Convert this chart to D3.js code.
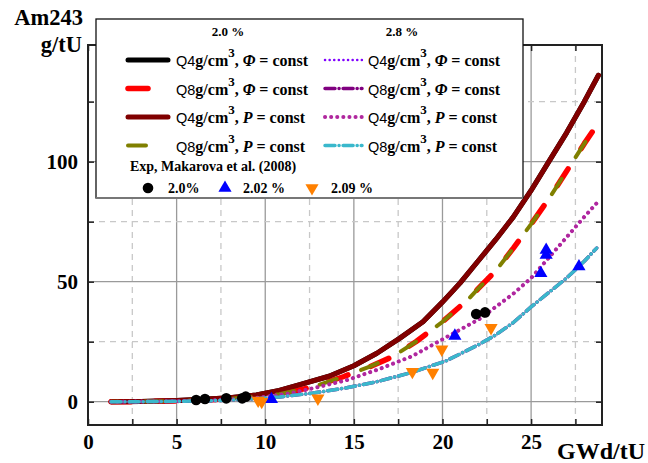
<!DOCTYPE html>
<html>
<head>
<meta charset="utf-8">
<script src="https://cdn.jsdelivr.net/npm/d3@7"></script>
<style>
  body { margin: 0; background: #fff; }
  svg { display: block; }
  text { font-family: "Liberation Serif", "Times New Roman", serif; font-weight: bold; fill: #000; }
</style>
</head>
<body>
<svg id="chart" width="648" height="463"></svg>
<script>
// ticks
var xMajor = [0, 5, 10, 15, 20, 25];
var xMinor = [2.5, 7.5, 12.5, 17.5, 22.5, 27.5];
var yMajor = [0, 50, 100];
var yMinor = [25, 75, 125];

// model curves, 2.0 % enrichment
var bu20q4 = [1.3, 3, 5, 6.5, 8, 9.5, 10.8, 12, 13.6, 15, 16.3, 17.6, 18.9, 20, 21, 22, 23, 24, 25, 26, 27, 28, 28.8];
var am20q4 = [0, 0.1, 0.5, 1.0, 1.7, 2.8, 4.7, 7.2, 10.6, 15, 20.2, 26.5, 33.3, 41.5, 49.5, 58.5, 67.5, 77, 88, 100, 112, 125, 136];
var bu20q8 = [1.3, 3, 5, 7, 9, 10.8, 12.7, 14.4, 15.9, 17.2, 18.5, 20, 21.5, 22, 23, 24, 25, 26, 27, 28, 28.6];
var am20q8 = [0, 0.05, 0.3, 0.8, 1.8, 3.1, 6.2, 10.4, 14.6, 18.8, 25, 33.3, 43, 47, 54.5, 64, 74, 84.5, 96, 107.5, 114];
// model curves, 2.8 % enrichment
var bu28q4 = [1.3, 3, 5, 7, 9, 10, 11.4, 12.7, 14.6, 16.4, 18.3, 20.2, 22.1, 23, 24, 25, 26, 27, 28, 28.7];
var am28q4 = [0, 0.05, 0.2, 0.6, 1.3, 2, 3.5, 5.6, 9, 13.5, 19, 26.8, 34.5, 39.5, 45, 51.5, 60, 68.5, 77, 82.7];
var bu28q8 = [1.3, 3, 5, 7, 9, 10.8, 12.7, 14.6, 16.4, 18.3, 20.2, 22.1, 23, 24, 25, 26, 27, 28, 28.7];
var am28q8 = [0, 0.03, 0.15, 0.4, 1.0, 2, 3.6, 5.8, 8.5, 12.3, 17, 24, 27.8, 33, 39.5, 45.5, 51.5, 58.5, 64];

// experiment, Makarova et al. (2008)
var expBu200 = [6.1, 6.6, 7.8, 8.7, 8.9, 21.9, 22.4];
var expAm200 = [0.7, 1.1, 1.4, 1.4, 2.1, 36.5, 37.2];
var expBu202 = [10.35, 20.7, 25.55, 25.85, 25.85, 27.7];
var expAm202 = [1.0, 27.4, 53.5, 61.1, 63.2, 56.3];
var expBu209 = [9.6, 9.8, 12.97, 18.3, 19.45, 19.96, 22.74];
var expAm209 = [0.5, 0, 1.4, 12.5, 12.1, 21.8, 30.8];

var svg = d3.select("#chart");
var x = d3.scaleLinear().domain([0, 29]).range([88, 602]);
var y = d3.scaleLinear().domain([-9.7, 148.6]).range([425, 45]);

function pts(bu, am) { return bu.map(function (d, i) { return [d, am[i]]; }); }

// grid
var grid = svg.append("g");
grid.selectAll(".gxM").data(xMajor.filter(function (d) { return d > 0; })).enter().append("line")
  .attr("x1", d => x(d)).attr("x2", d => x(d)).attr("y1", 45).attr("y2", 425)
  .attr("stroke", "#9a9a9a").attr("stroke-width", 1.3);
grid.selectAll(".gxm").data(xMinor).enter().append("line")
  .attr("x1", d => x(d)).attr("x2", d => x(d)).attr("y1", 45).attr("y2", 425)
  .attr("stroke", "#c8c8c8").attr("stroke-width", 1.3).attr("stroke-dasharray", "6,5");
grid.selectAll(".gyM").data(yMajor).enter().append("line")
  .attr("y1", d => y(d)).attr("y2", d => y(d)).attr("x1", 88).attr("x2", 602)
  .attr("stroke", "#9a9a9a").attr("stroke-width", 1.3);
grid.selectAll(".gym").data(yMinor).enter().append("line")
  .attr("y1", d => y(d)).attr("y2", d => y(d)).attr("x1", 88).attr("x2", 602)
  .attr("stroke", "#c8c8c8").attr("stroke-width", 1.3).attr("stroke-dasharray", "6,5");

// series styles
var series = [
  { d: pts(bu20q4, am20q4), color: "#000000", w: 5, dash: null },
  { d: pts(bu20q8, am20q8), color: "#ff0000", w: 5.5, dash: "20,24" },
  { d: pts(bu20q4, am20q4), color: "#800000", w: 5, dash: null },
  { d: pts(bu20q8, am20q8), color: "#808000", w: 4, dash: "18,26", off: 10 },
  { d: pts(bu28q4, am28q4), color: "#8000ff", w: 3, dash: "0.1,6" },
  { d: pts(bu28q8, am28q8), color: "#800080", w: 3.5, dash: "10,4,0.1,4" },
  { d: pts(bu28q4, am28q4), color: "#b0279e", w: 4, dash: "0.1,6" },
  { d: pts(bu28q8, am28q8), color: "#3ab8cc", w: 3.5, dash: "10,4,0.1,4" }
];

var line = d3.line().x(d => x(d[0])).y(d => y(d[1]));
svg.append("defs").append("clipPath").attr("id", "clip")
  .append("rect").attr("x", 88).attr("y", 45).attr("width", 514).attr("height", 380);
var lines = svg.append("g").attr("clip-path", "url(#clip)");
series.forEach(function (s) {
  lines.append("path").attr("d", line(s.d)).attr("fill", "none")
    .attr("stroke", s.color).attr("stroke-width", s.w)
    .attr("stroke-linecap", "round").attr("stroke-linejoin", "round")
    .attr("stroke-dasharray", s.dash).attr("stroke-dashoffset", s.off || 0);
});

// markers
var triUp = d3.symbol().type(d3.symbolTriangle).size(75);
var marks = svg.append("g");
marks.selectAll(".c").data(pts(expBu200, expAm200)).enter().append("circle")
  .attr("cx", d => x(d[0])).attr("cy", d => y(d[1])).attr("r", 5.3).attr("fill", "#000");
marks.selectAll(".tu").data(pts(expBu202, expAm202)).enter().append("path")
  .attr("d", triUp).attr("fill", "#0000ff")
  .attr("transform", d => `translate(${x(d[0])},${y(d[1])})`);
marks.selectAll(".td").data(pts(expBu209, expAm209)).enter().append("path")
  .attr("d", triUp).attr("fill", "#ff8000")
  .attr("transform", d => `translate(${x(d[0])},${y(d[1])}) rotate(180)`);

// axes
function fmt(list) { return function (d) { return list.indexOf(d) >= 0 ? d : ""; }; }
var ax = svg.append("g");
ax.append("g").attr("transform", "translate(0,425)")
  .call(d3.axisBottom(x).tickValues(xMajor.concat(xMinor)).tickSizeInner(-6).tickSizeOuter(0).tickPadding(9).tickFormat(fmt(xMajor)));
ax.append("g").attr("transform", "translate(0,45)")
  .call(d3.axisTop(x).tickValues(xMajor.concat(xMinor)).tickSizeInner(-6).tickSizeOuter(0).tickFormat(""));
ax.append("g").attr("transform", "translate(88,0)")
  .call(d3.axisLeft(y).tickValues(yMajor.concat(yMinor)).tickSizeInner(-6).tickSizeOuter(0).tickPadding(10).tickFormat(fmt(yMajor)));
ax.append("g").attr("transform", "translate(602,0)")
  .call(d3.axisRight(y).tickValues(yMajor.concat(yMinor)).tickSizeInner(-6).tickSizeOuter(0).tickFormat(""));
ax.selectAll(".domain").remove();
ax.selectAll("g").attr("font-size", null).attr("font-family", null);
ax.selectAll(".tick line").attr("stroke", "#222").attr("stroke-width", 1.5);
ax.selectAll(".tick text").style("font-size", "21px").attr("fill", "#000");
svg.append("rect").attr("x", 88).attr("y", 45).attr("width", 514).attr("height", 380)
  .attr("fill", "none").attr("stroke", "#222").attr("stroke-width", 2);

// axis titles
svg.append("text").attr("x", 83).attr("y", 25).attr("text-anchor", "end").style("font-size", "22.5px").text("Am243");
svg.append("text").attr("x", 82).attr("y", 52).attr("text-anchor", "end").style("font-size", "22.5px").text("g/tU");
svg.append("text").attr("x", 645).attr("y", 459).attr("text-anchor", "end").style("font-size", "24px").text("GWd/tU");

// legend
var lg = svg.append("g");
lg.append("rect").attr("x", 96).attr("y", 19).attr("width", 427).attr("height", 179)
  .attr("fill", "#fff").attr("stroke", "#111").attr("stroke-width", 1.3);
lg.append("line").attr("x1", 96).attr("x2", 523).attr("y1", 198).attr("y2", 198).attr("stroke", "#777").attr("stroke-width", 2);
lg.append("text").attr("x", 228).attr("y", 36).attr("text-anchor", "middle").style("font-size", "13px").text("2.0 %");
lg.append("text").attr("x", 402).attr("y", 36).attr("text-anchor", "middle").style("font-size", "13px").text("2.8 %");

var rowY = [60, 88.5, 117, 145.5];
var legendItems = [
  { s: 0, col: 0, row: 0, q: "Q4", k: "Φ" }, { s: 1, col: 0, row: 1, q: "Q8", k: "Φ" },
  { s: 2, col: 0, row: 2, q: "Q4", k: "P" }, { s: 3, col: 0, row: 3, q: "Q8", k: "P" },
  { s: 4, col: 1, row: 0, q: "Q4", k: "Φ" }, { s: 5, col: 1, row: 1, q: "Q8", k: "Φ" },
  { s: 6, col: 1, row: 2, q: "Q4", k: "P" }, { s: 7, col: 1, row: 3, q: "Q8", k: "P" }
];
var colX = [[128, 168, 176], [325, 362, 368]];
legendItems.forEach(function (it) {
  var s = series[it.s], cx = colX[it.col], yy = rowY[it.row];
  lg.append("line").attr("x1", cx[0]).attr("x2", cx[1]).attr("y1", yy).attr("y2", yy)
    .attr("stroke", s.color).attr("stroke-width", it.s === 4 ? 2.5 : s.w).attr("stroke-linecap", "round")
    .attr("stroke-dasharray", it.s === 4 ? "0.1,4.5" : s.dash);
  var t = lg.append("text").attr("x", cx[2]).attr("y", yy + 6).style("font-size", "16px");
  t.append("tspan").attr("font-family", "Liberation Sans").attr("font-weight", "normal").style("font-size", "14.5px").text(it.q);
  t.append("tspan").text("g/cm");
  t.append("tspan").attr("dy", -9).style("font-size", "13px").text("3");
  t.append("tspan").attr("dy", 9).text(", ");
  t.append("tspan").attr("font-style", "italic").text(it.k);
  t.append("tspan").text(" = const");
});
lg.append("text").attr("x", 130).attr("y", 171).style("font-size", "14px").text("Exp, Makarova et al. (2008)");
lg.append("circle").attr("cx", 148).attr("cy", 188).attr("r", 5.3).attr("fill", "#000");
lg.append("text").attr("x", 168).attr("y", 193).style("font-size", "14px").text("2.0%");
lg.append("path").attr("d", triUp).attr("fill", "#0000ff").attr("transform", "translate(225,188)");
lg.append("text").attr("x", 243).attr("y", 193).style("font-size", "14px").text("2.02 %");
lg.append("path").attr("d", triUp).attr("fill", "#ff8000").attr("transform", "translate(312,188) rotate(180)");
lg.append("text").attr("x", 331).attr("y", 193).style("font-size", "14px").text("2.09 %");
</script>
</body>
</html>
